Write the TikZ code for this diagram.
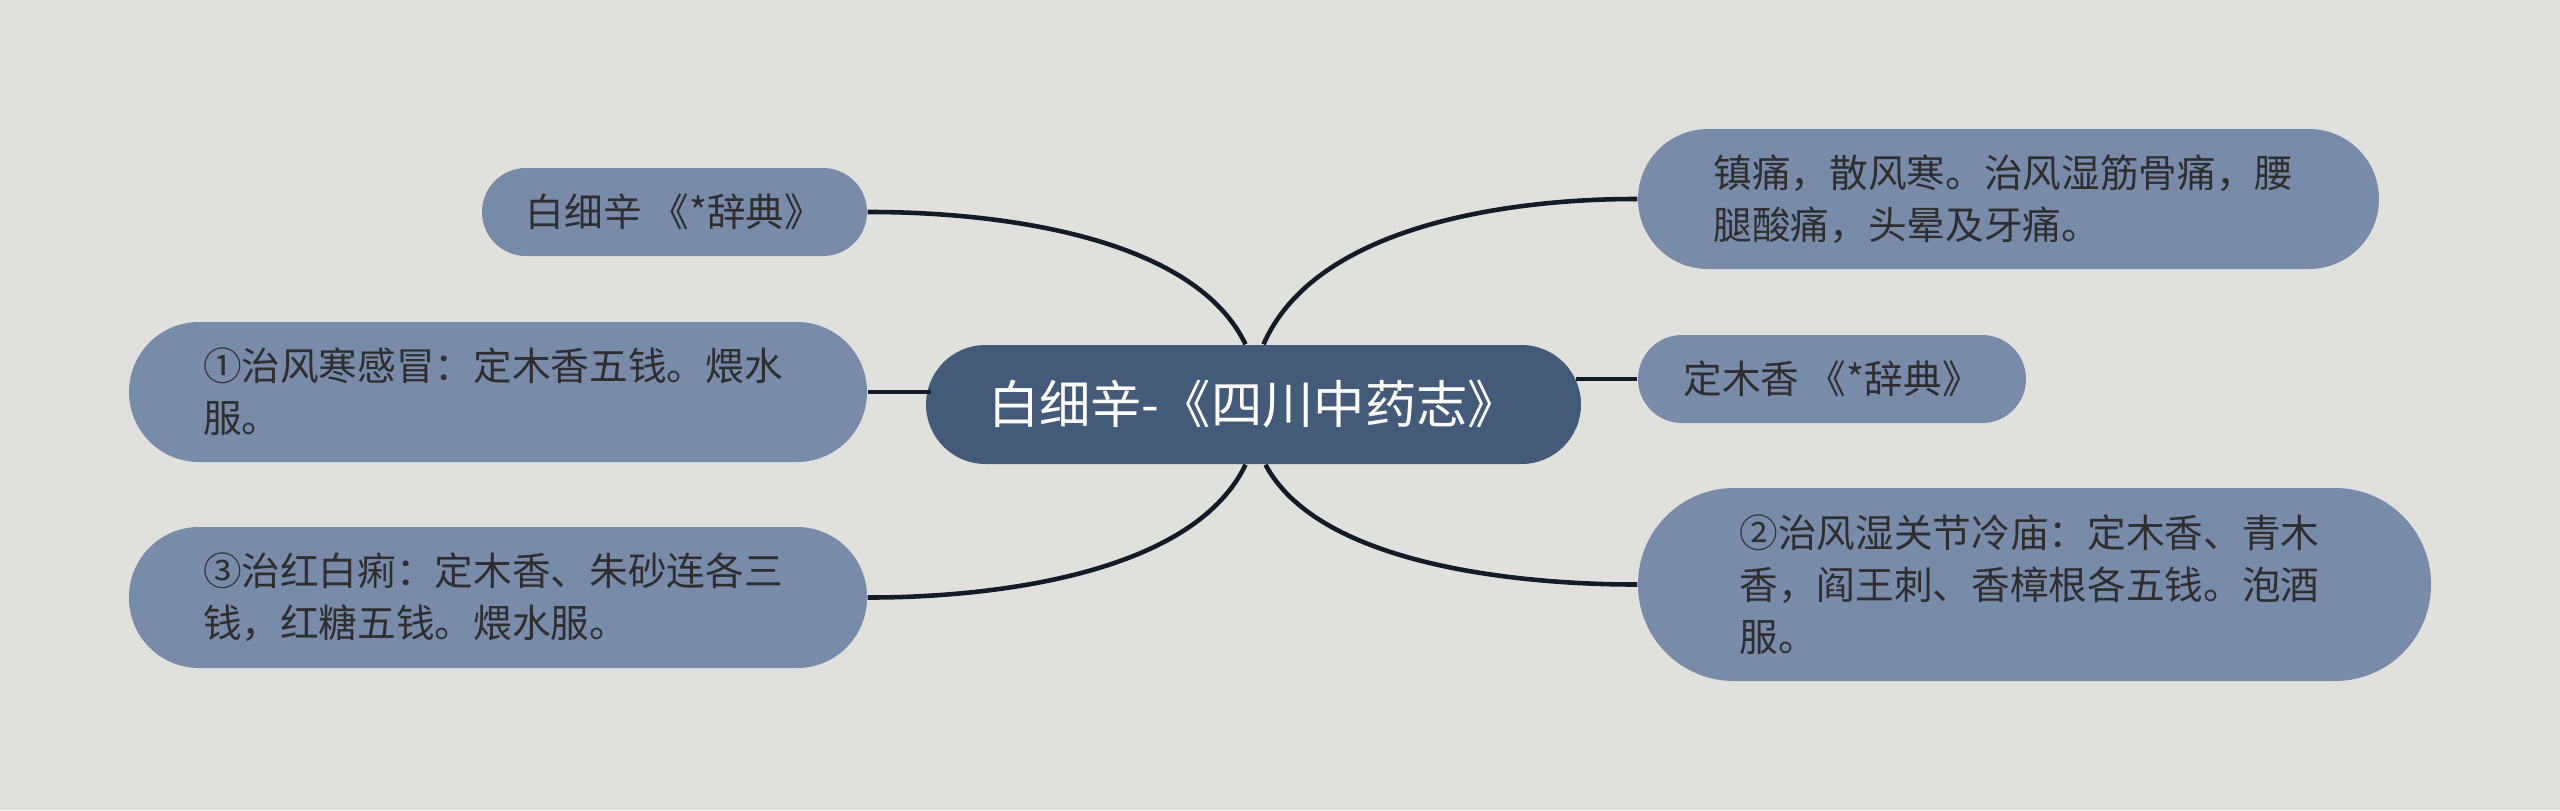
\documentclass[tikz,border=0pt]{standalone}
\usepackage{fontspec}
\usepackage{tikz}
\usepackage{xcolor}
\usetikzlibrary{calc}

\newfontfamily\cjk{Noto Sans CJK SC}
\definecolor{paper}{HTML}{E0E1DC}
\definecolor{hubfill}{HTML}{435A79}
\definecolor{leaffill}{HTML}{788BA9}
\definecolor{leaftext}{HTML}{2E2E2E}
\definecolor{linkcol}{HTML}{131B29}

\begin{document}
\begin{tikzpicture}
    % Style definitions
    \tikzset{
        hub/.style={fill=hubfill, text=white, rounded corners=0.595cm, minimum width=6.55cm, minimum height=1.19cm, inner sep=0pt, font=\cjk\fontsize{14.6pt}{17pt}\selectfont},
        leaf/.style={fill=leaffill, text=leaftext, inner sep=0pt, font=\cjk\fontsize{11pt}{14.8pt}\selectfont},
        note/.style={leaf, align=left, text width=5.9cm},
        link/.style={linkcol, line width=1.3pt}
    }

    % page
    \useasboundingbox (0,0) rectangle (25.6,8.1);
    \fill[paper] (0,0) rectangle (25.6,8.1);

    % ==========================================
    % CENTRE
    % ==========================================
    \node[hub] (root) at (12.535, 4.055) {白细辛-《四川中药志》};

    % ==========================================
    % LEFT SIDE
    % ==========================================
    \node[leaf, minimum width=3.85cm, minimum height=0.88cm, rounded corners=0.44cm] (cidian) at (6.745, 5.98) {白细辛 《*辞典》};
    \node[note, minimum width=7.38cm, minimum height=1.40cm, rounded corners=0.70cm] (ganmao) at (4.98, 4.18) {①治风寒感冒：定木香五钱。煨水\\服。};
    \node[note, minimum width=7.38cm, minimum height=1.41cm, rounded corners=0.70cm] (baili) at (4.98, 2.125) {③治红白痢：定木香、朱砂连各三\\钱，红糖五钱。煨水服。};

    % ==========================================
    % RIGHT SIDE
    % ==========================================
    \node[note, minimum width=7.41cm, minimum height=1.40cm, rounded corners=0.70cm] (zhentong) at (20.085, 6.11) {镇痛，散风寒。治风湿筋骨痛，腰\\腿酸痛，头晕及牙痛。};
    \node[leaf, minimum width=3.88cm, minimum height=0.88cm, rounded corners=0.44cm] (dingmu) at (18.32, 4.31) {定木香 《*辞典》};
    \node[note, minimum width=7.93cm, minimum height=1.93cm, rounded corners=0.96cm] (fengshi) at (20.345, 2.255) {②治风湿关节冷庙：定木香、青木\\香，阎王刺、香樟根各五钱。泡酒\\服。};

    % Links from the centre
    \draw[link] ([xshift=-0.08cm]root.north) .. controls +(-0.64,1.33) and +(0.38,0) .. (cidian.east);
    \draw[link] ([xshift=0.1cm]root.north) .. controls +(0.64,1.46) and +(-0.38,0) .. (zhentong.west);
    \draw[link] ([xshift=-0.08cm]root.south) .. controls +(-0.64,-1.33) and +(0.38,0) .. (baili.east);
    \draw[link] ([xshift=0.12cm]root.south) .. controls +(0.64,-1.2) and +(-0.38,0) .. (fengshi.west);
    \draw[link] (ganmao.east) -- ([xshift=1.6pt]ganmao.east -| root.west);
    \draw[link] (dingmu.west) -- ([xshift=-1.6pt]dingmu.west -| root.east);
\end{tikzpicture}
\end{document}
